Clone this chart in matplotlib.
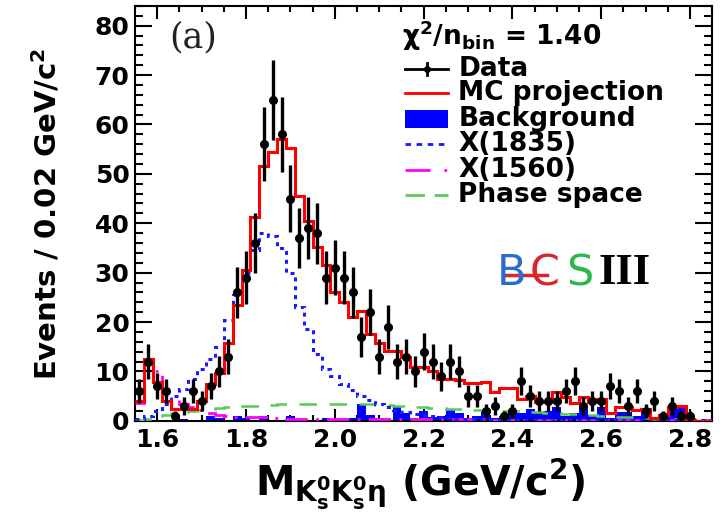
import numpy as np
import matplotlib.pyplot as plt
from matplotlib.patches import Rectangle
from matplotlib.ticker import MultipleLocator, FormatStrFormatter

plt.rcParams['font.family'] = 'DejaVu Sans'
plt.rcParams['font.weight'] = 'bold'
plt.rcParams['axes.labelweight'] = 'bold'
plt.rcParams['mathtext.fontset'] = 'dejavusans'
plt.rcParams['mathtext.default'] = 'bf'

# 0.02 GeV/c^2 bins between 1.55 and 2.85
bin_edges = np.round(np.arange(1.55, 2.8501, 0.02), 2)
bin_centers = 0.5 * (bin_edges[:-1] + bin_edges[1:])

# events per bin
data = np.array([
    6, 12, 7, 6, 1, 3, 6, 4, 7, 10,
    13, 26, 29, 36, 56, 65, 58, 45, 37, 39,
    38, 29, 31, 29, 26, 17, 22, 13, 19, 12,
    13, 10, 14, 12, 9, 12, 10, 5, 5, 2,
    3, 1, 2, 8, 5, 4, 4, 4, 6, 8,
    3, 4, 4, 7, 6, 3, 6, 2, 4, 1,
    3, 1, 1, 0, 0])

# total MC projection
mc_total = np.array([
    4.0, 12.6, 7.8, 4.1, 2.4, 2.4, 2.4, 4.1, 7.5, 9.6,
    15.7, 23.4, 30.5, 41.3, 51.6, 54.4, 57.0, 55.2, 45.6, 40.5,
    35.2, 31.5, 26.1, 24.0, 21.0, 22.2, 17.5, 15.7, 14.1, 14.1,
    12.9, 10.9, 10.9, 10.0, 8.5, 8.5, 8.2, 7.6, 7.6, 7.8,
    5.8, 6.7, 6.7, 4.5, 5.1, 3.8, 3.8, 5.9, 4.8, 3.6,
    4.8, 3.8, 4.5, 1.5, 2.9, 2.9, 2.2, 2.4, 0.6, 1.1,
    2.9, 3.1, 0.3, 0.0, 0.0])

# sideband background
background = np.array([
    0, 0, 0, 0, 0, 0.3, 0, 0, 1.0, 0.5,
    0, 1.0, 0.5, 0, 1.0, 0, 0, 1.0, 0, 0,
    0, 0.5, 0, 0, 0.5, 3.5, 1.2, 0.5, 0, 3.0,
    1.5, 0.5, 2.0, 0.7, 1.0, 2.5, 1.5, 0.5, 1.0, 2.0,
    0.5, 1.0, 2.0, 1.5, 2.5, 1.5, 2.0, 2.8, 1.0, 1.5,
    2.8, 1.2, 2.8, 0.6, 1.8, 1.8, 0.9, 1.8, 0.1, 0.2,
    2.8, 2.8, 0, 0, 0])

# X(1835) component
x1835 = np.array([
    0.3, 1.0, 2.0, 3.5, 5.0, 6.5, 8.5, 10.5, 12.5, 15.0,
    20.5, 25.5, 30.0, 34.5, 38.0, 37.5, 35.0, 30.0, 23.0, 18.5,
    13.5, 10.5, 9.0, 7.5, 6.2, 5.0, 4.2, 3.4, 2.8, 2.3,
    1.8, 1.4, 1.1, 0.9, 0.7, 0.5, 0.4, 0.3, 0.3, 0.2,
    0.2, 0.2, 0.15, 0.15, 0.1, 0.1, 0.1, 0.1, 0.1, 0.1,
    0.1, 0.1, 0.1, 0.1, 0.1, 0.1, 0.1, 0.1, 0.1, 0.1,
    0.1, 0.1, 0.1, 0.1, 0.1])

# X(1560) component
x1560 = np.array([
    3.6, 12.2, 10.0, 5.0, 4.3, 3.5, 2.8, 2.1, 1.5, 1.1,
    0.9, 0.8, 0.7, 0.7, 0.7, 0.6, 0.5, 0.4, 0.3, 0.3,
    0.3, 0.3, 0.3, 0.3, 0.3, 0.3, 0.3, 0.3, 0.3, 0.3,
    0.3, 0.3, 0.3, 0.3, 0.3, 0.3, 0.3, 0.3, 0.3, 0.3,
    0.2, 0.2, 0.2, 0.2, 0.2, 0.2, 0.2, 0.2, 0.2, 0.2,
    0.2, 0.2, 0.2, 0.2, 0.2, 0.1, 0.1, 0.1, 0.1, 0.1,
    0.1, 0.1, 0.1, 0.1, 0.1])

# non-resonant phase space
phase_space = np.array([
    0.1, 0.4, 0.8, 1.2, 1.5, 1.8, 2.0, 2.2, 2.4, 2.6,
    2.75, 2.9, 3.0, 3.1, 3.2, 3.3, 3.35, 3.4, 3.45, 3.5,
    3.5, 3.5, 3.5, 3.5, 3.45, 3.4, 3.35, 3.3, 3.2, 3.1,
    3.0, 2.9, 2.8, 2.7, 2.6, 2.5, 2.4, 2.3, 2.2, 2.15,
    2.1, 2.0, 1.95, 1.9, 1.8, 1.7, 1.6, 1.5, 1.4, 1.3,
    1.2, 1.1, 1.0, 0.9, 0.8, 0.7, 0.6, 0.5, 0.45, 0.4,
    0.3, 0.25, 0.2, 0.1, 0.05])

chi2_per_bin = 1.40

fig = plt.figure(figsize=(7.26, 5.12), dpi=100)
ax = fig.add_axes([0.186, 0.178, 0.795, 0.8105])

# fit components
ax.stairs(background, bin_edges, fill=True, color='#0000ff', lw=0, zorder=2)
ax.stairs(phase_space, bin_edges, baseline=None, color='#55cc55', lw=1.8,
          ls=(0, (7, 5)), zorder=3)
ax.stairs(x1560, bin_edges, baseline=None, color='#ff00ff', lw=2.0,
          ls=(0, (8, 3, 1, 3)), zorder=3)
ax.stairs(x1835, bin_edges, baseline=None, color='#1a1aff', lw=2.2,
          ls=(0, (1.3, 1.6)), zorder=4)
ax.stairs(mc_total, bin_edges, baseline=None, color='#ff0000', lw=2.2, zorder=5)

# data points with Poisson errors
has_events = data > 0
ax.errorbar(bin_centers[has_events], data[has_events],
            yerr=np.sqrt(data[has_events]), fmt='o', color='black',
            ms=5.5, elinewidth=2.4, capsize=0, zorder=6)

ax.set_xlim(1.55, 2.85)
ax.set_ylim(0, 84)
ax.xaxis.set_major_locator(MultipleLocator(0.2))
ax.xaxis.set_minor_locator(MultipleLocator(0.05))
ax.xaxis.set_major_formatter(FormatStrFormatter('%.1f'))
ax.yaxis.set_major_locator(MultipleLocator(10))
ax.yaxis.set_minor_locator(MultipleLocator(2))
ax.tick_params(which='both', direction='in', top=True, right=True, width=1.5,
               labelsize=18)
ax.tick_params(axis='x', which='major', length=9, pad=5)
ax.tick_params(axis='x', which='minor', length=4.5)
ax.tick_params(axis='y', which='major', length=12, pad=4)
ax.tick_params(axis='y', which='minor', length=6)
for spine in ax.spines.values():
    spine.set_linewidth(1.5)

ax.set_xlabel(r'M$_{\mathbf{K^0_sK^0_s}\eta}$ (GeV/c$^2$)', fontsize=28.5)
ax.xaxis.set_label_coords(0.494, -0.085)
ax.set_ylabel(r'Events / 0.02 GeV/c$^2$', fontsize=21)
ax.yaxis.set_label_coords(-0.125, 0.5)

# panel tag
ax.text(0.10, 0.923, '(a)', transform=ax.transAxes, ha='center', va='center',
        fontsize=25, family='DejaVu Serif', fontweight='normal', color='#222222')

# legend drawn by hand
ax.text(0.463, 0.928, r'$\chi^2$/n$_{\mathbf{bin}}$ = %.2f' % chi2_per_bin,
        transform=ax.transAxes, ha='left', va='center', fontsize=19)

hx0, hx1, tx = 0.468, 0.542, 0.560
rows = [0.848, 0.790, 0.728, 0.666, 0.604, 0.544]
labels = ['Data', 'MC projection', 'Background', 'X(1835)', 'X(1560)',
          'Phase space']
for y, lab in zip(rows, labels):
    ax.text(tx, y, lab, transform=ax.transAxes, ha='left', va='center',
            fontsize=19)

y = rows[0]
xc = 0.5 * (hx0 + hx1)
ax.plot([hx0, hx1], [y, y], color='black', lw=2, transform=ax.transAxes)
ax.plot([xc], [y], 'o', color='black', ms=4, transform=ax.transAxes)
ax.plot([xc, xc], [y - 0.015, y + 0.015], color='black', lw=2,
        transform=ax.transAxes)
ax.plot([hx0, hx1], [rows[1]] * 2, color='#ff0000', lw=2,
        transform=ax.transAxes)
ax.add_patch(Rectangle((hx0, rows[2] - 0.022), hx1 - hx0, 0.044,
                       facecolor='#0000ff', edgecolor='none',
                       transform=ax.transAxes))
ax.plot([hx0, hx1], [rows[3]] * 2, color='#1a1aff', lw=2, ls=(0, (2, 2)),
        transform=ax.transAxes)
ax.plot([hx0, hx1], [rows[4]] * 2, color='#ff00ff', lw=2, ls=(0, (9, 5, 1, 5)),
        transform=ax.transAxes)
ax.plot([hx0, hx1], [rows[5]] * 2, color='#55cc55', lw=2, ls=(0, (7, 3.5)),
        transform=ax.transAxes)

# experiment logo
logo_y = 0.356
logo_font = dict(transform=ax.transAxes, ha='center', va='center',
                 fontsize=31, fontweight='normal')
ax.text(0.652, logo_y, 'B', color='#2b6ccc', **logo_font)
ax.text(0.709, logo_y, 'C', color='#d9262b', **logo_font)
ax.plot([0.641, 0.713], [logo_y - 0.004] * 2, color='#d9262b', lw=2.5,
        transform=ax.transAxes)
ax.text(0.770, logo_y, 'S', color='#2bb84a', **logo_font)
ax.text(0.848, logo_y, 'III', transform=ax.transAxes, ha='center', va='center',
        fontsize=32, family='Liberation Serif', fontweight='bold', color='black')

fig.savefig('out.png', dpi=100)
